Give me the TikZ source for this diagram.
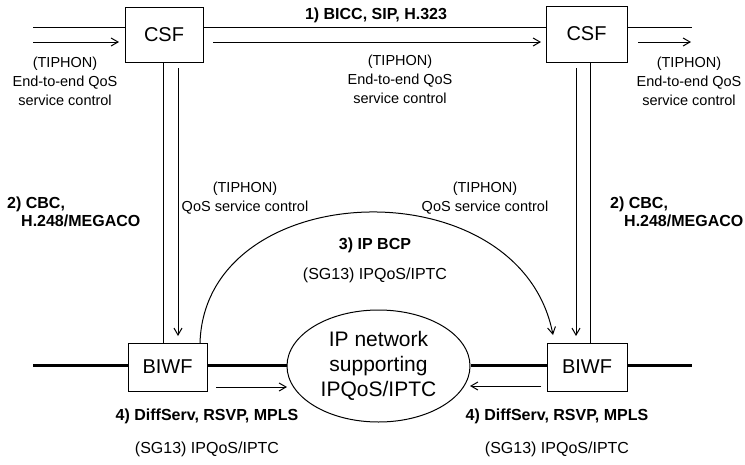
\documentclass[tikz,border=0pt]{standalone}
\usepackage{fontspec}
\setmainfont{Liberation Sans}
\usetikzlibrary{shapes.geometric,arrows.meta}
\begin{document}
\begin{tikzpicture}[x=1pt,y=-1pt,
  box/.style={draw,line width=1pt,inner sep=0pt,font=\fontsize{20}{22}\selectfont},
  lbl/.style={inner sep=0pt,font=\fontsize{14.5}{19}\selectfont,align=center},
  sglbl/.style={inner sep=0pt,font=\fontsize{16}{19}\selectfont,align=center},
  blbl/.style={inner sep=0pt,font=\bfseries\fontsize{16}{18}\selectfont,align=left},
  thin/.style={line width=1pt},
  thick/.style={line width=3pt},
  arr/.style={line width=1pt,-{Straight Barb[angle=60:8pt]}}]
\useasboundingbox (0,0) rectangle (745,464);
% boxes
\node[box,minimum width=78pt,minimum height=55pt] (csfL) at (164,34.5) {CSF};
\node[box,minimum width=81pt,minimum height=56pt] (csfR) at (586.5,34) {CSF};
\node[box,minimum width=79pt,minimum height=48pt] (biwfL) at (167.5,367) {BIWF};
\node[box,minimum width=80pt,minimum height=48pt] (biwfR) at (587,367) {BIWF};
\node[ellipse,draw,line width=1pt,minimum width=183pt,minimum height=112pt,inner sep=0pt,
  align=center,font=\fontsize{21}{25}\selectfont] (ipn) at (378.5,366) {IP network\\supporting\\IPQoS/IPTC};
% top signalling lines
\coordinate (tl) at (33,27);
\coordinate (tr) at (692,27);
\draw[thin] (tl) -- (csfL.west |- tl);
\draw[thin] (csfL.east |- tl) -- (csfR.west |- tl);
\draw[thin] (csfR.east |- tl) -- (tr);
\coordinate (a1s) at (33,42);  \coordinate (a1e) at (119,42);
\coordinate (a2s) at (213,42); \coordinate (a2e) at (541,42);
\coordinate (a3s) at (638,42); \coordinate (a3e) at (691,42);
\draw[arr] (a1s) -- (a1e);
\draw[arr] (a2s) -- (a2e);
\draw[arr] (a3s) -- (a3e);
% vertical lines
\coordinate (vL) at (163,0);
\coordinate (vR) at (590,0);
\draw[thin] (csfL.south -| vL) -- (biwfL.north -| vL);
\draw[thin] (csfR.south -| vR) -- (biwfR.north -| vR);
\coordinate (dLs) at (178,68); \coordinate (dLe) at (178,336);
\coordinate (dRs) at (576,68); \coordinate (dRe) at (576,336);
\draw[arr] (dLs) -- (dLe);
\draw[arr] (dRs) -- (dRe);
% arc
\coordinate (arcS) at (200,343);
\coordinate (arcE) at (553,335);
\draw[arr] (arcS) .. controls (205,175) and (520,165) .. (arcE);
% bearer
\coordinate (bl) at (33,365);
\coordinate (br) at (692,365);
\draw[thick] (bl) -- (biwfL.west |- bl);
\draw[thick] (biwfL.east |- bl) -- (ipn.west |- bl);
\draw[thick] (ipn.east |- br) -- (biwfR.west |- br);
\draw[thick] (biwfR.east |- br) -- (br);
\coordinate (b1s) at (216,387); \coordinate (b1e) at (287,387);
\coordinate (b2s) at (541,386); \coordinate (b2e) at (470,386);
\draw[arr] (b1s) -- (b1e);
\draw[arr] (b2s) -- (b2e);
% labels
\node[blbl,align=center] (l1) at (376,15) {1) BICC, SIP, H.323};
\node[lbl] (t1) at (65,81) {(TIPHON)\\End-to-end QoS\\service control};
\node[lbl] (t2) at (400,79) {(TIPHON)\\End-to-end QoS\\service control};
\node[lbl] (t3) at (689,81) {(TIPHON)\\End-to-end QoS\\service control};
\node[lbl] (q1) at (245,198) {(TIPHON)\\QoS service control};
\node[lbl] (q2) at (485,198) {(TIPHON)\\QoS service control};
\node[blbl,anchor=west] (c1) at (7,212) {2) CBC,\\\hspace*{14pt}H.248/MEGACO};
\node[blbl,anchor=west] (c2) at (610,212) {2) CBC,\\\hspace*{14pt}H.248/MEGACO};
\node[blbl] (ip) at (375,245) {3) IP BCP};
\node[sglbl] (s1) at (375,275) {(SG13) IPQoS/IPTC};
\node[blbl] (d1) at (207,416) {4) DiffServ, RSVP, MPLS};
\node[blbl] (d2) at (557,416) {4) DiffServ, RSVP, MPLS};
\node[sglbl] (s2) at (207,449) {(SG13) IPQoS/IPTC};
\node[sglbl] (s3) at (557,449) {(SG13) IPQoS/IPTC};
\end{tikzpicture}
\end{document}
